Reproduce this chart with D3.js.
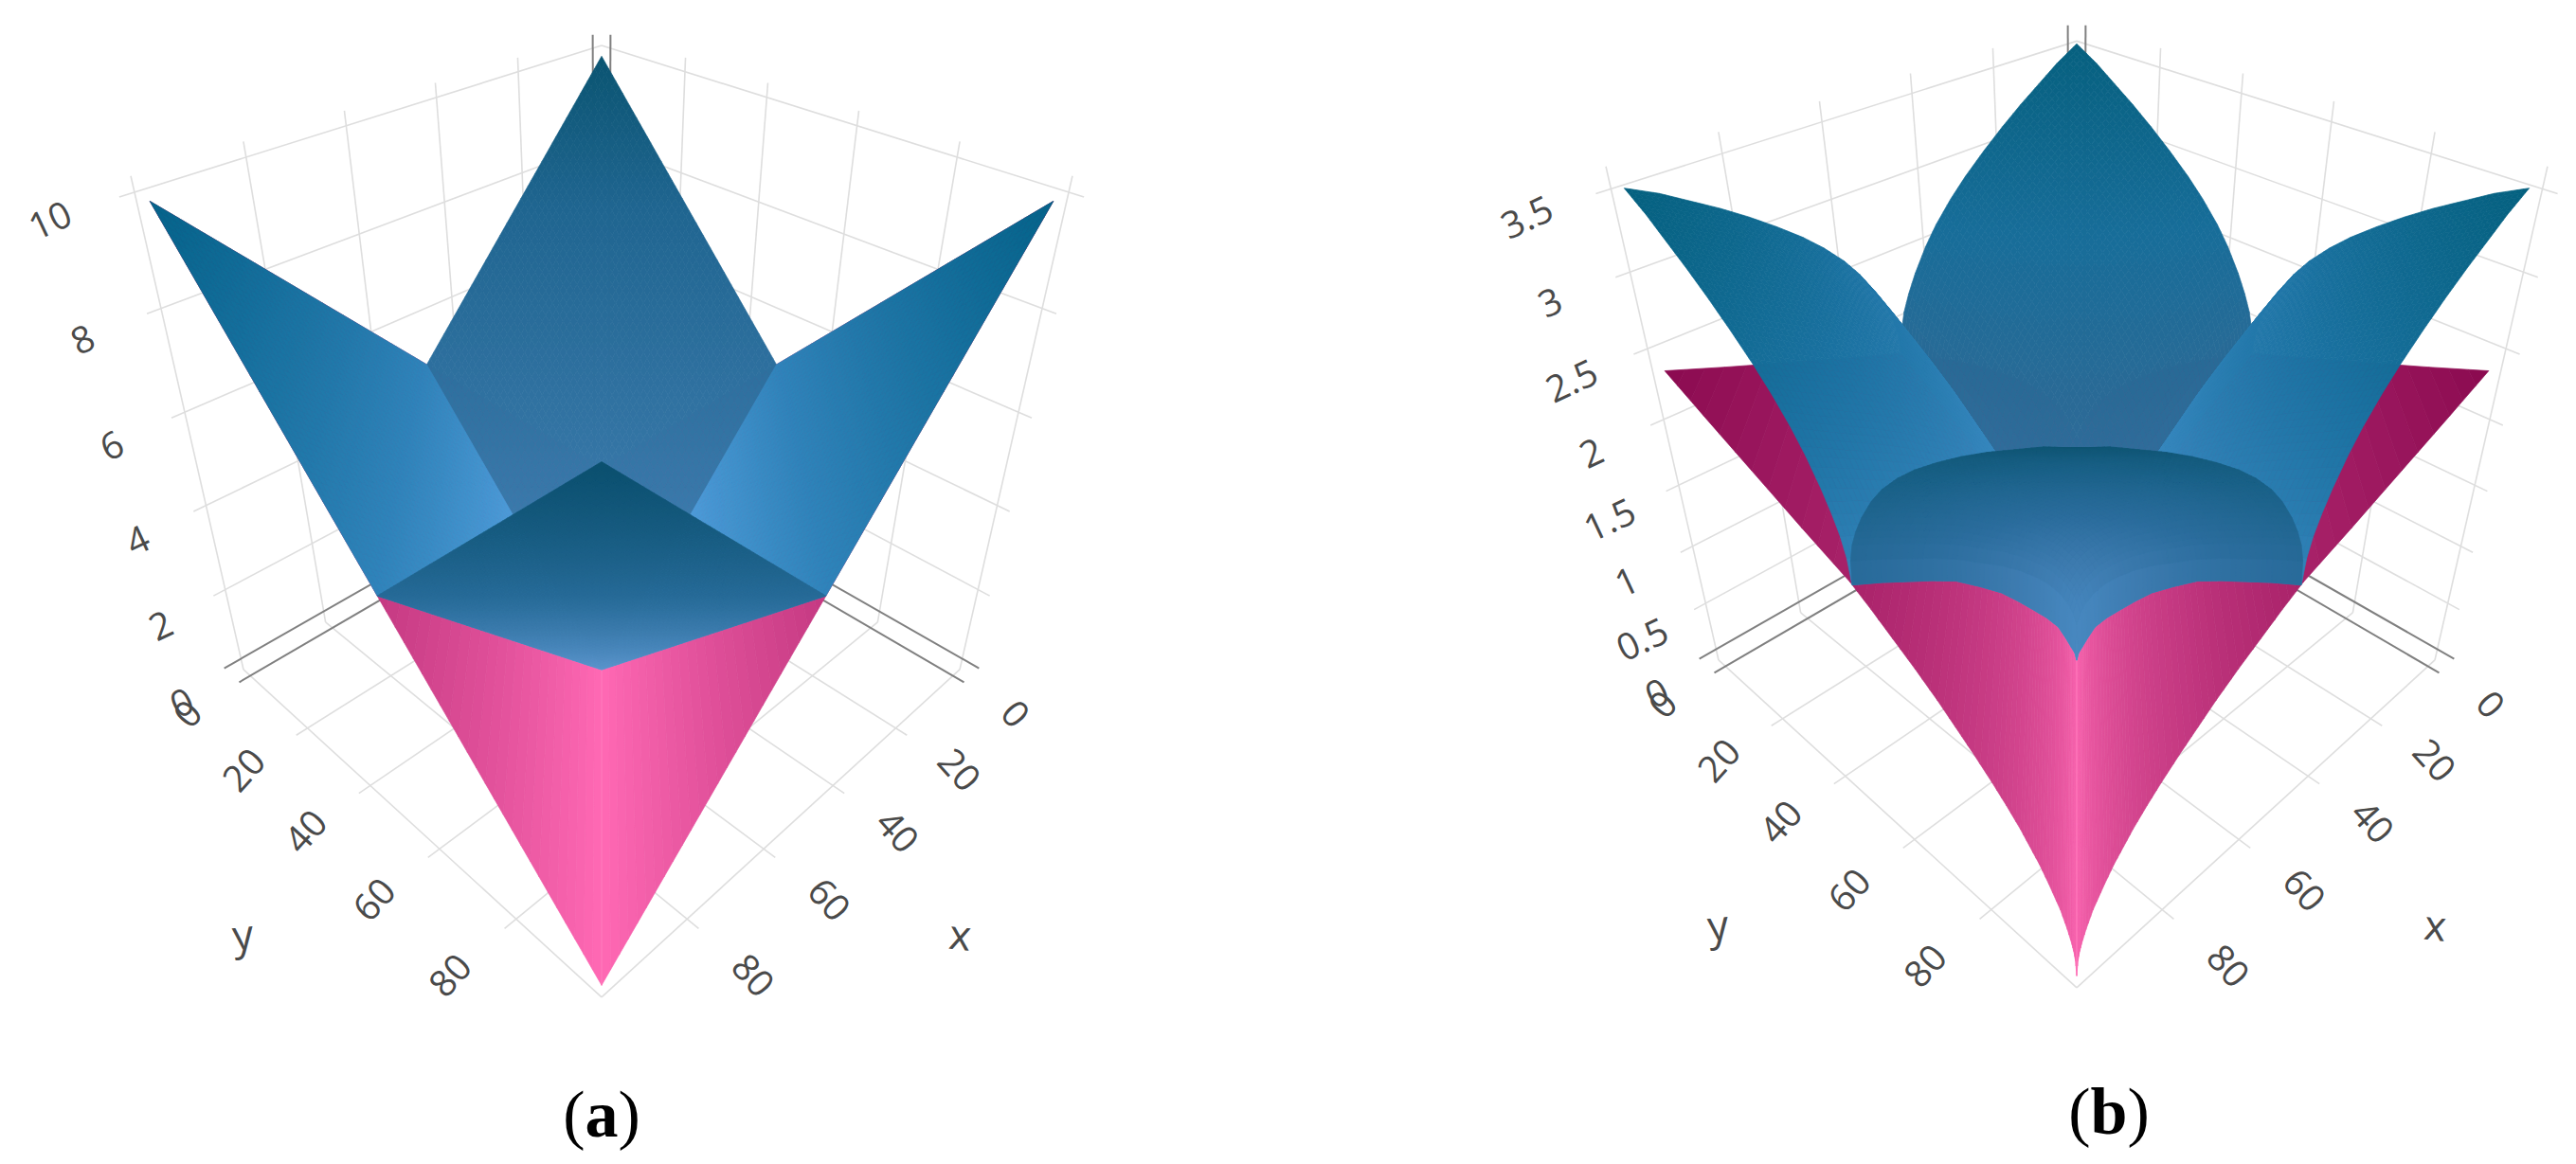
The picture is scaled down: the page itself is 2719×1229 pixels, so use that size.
<!DOCTYPE html>
<html>
<head>
<meta charset="utf-8">
<script src="https://cdn.jsdelivr.net/npm/d3@7"></script>
<style>
  html, body { margin: 0; background: #fff; }
  svg { display: block; }
  .tick { font-family: "Open Sans", sans-serif; font-size: 39px; fill: #4a4a4a; text-anchor: middle; dominant-baseline: central; }
  .title { font-size: 44px; }
  .caption { font-family: "Liberation Serif", serif; font-size: 70px; fill: #000; text-anchor: middle; }
</style>
</head>
<body>
<svg width="2719" height="1229"></svg>
<script>
var svg = d3.select("svg");

// ticks
var xTicks = [0, 20, 40, 60, 80],
    yTicks = [0, 20, 40, 60, 80],
    zTicksA = [0, 2, 4, 6, 8, 10],
    zTicksB = [0, 0.5, 1, 1.5, 2, 2.5, 3, 3.5];

// (a) blue surface, one quadrant: distance from the centre (49.5) along x and y -> z
var aOffset = [0, 49.5];
var aBlueZ = [
  [0, 4.95],
  [4.95, 9.9]
];
// (a) pink surface: |x - y| -> z
var aPinkGap = [0, 99];
var aPinkZ = [0, 9.9];

// (b) same layout
var bOffset = [0, 0.5, 1.5, 3, 5, 8, 11, 15, 19, 24, 29, 34, 39, 44, 49.5];
var bBlueZ = [
  [0, 0.08, 0.16, 0.28, 0.43, 0.58, 0.71, 0.88, 1.04, 1.20, 1.35, 1.46, 1.56, 1.66, 1.76],
  [0.08, 0.36, 0.49, 0.61, 0.74, 0.89, 1.01, 1.15, 1.27, 1.40, 1.53, 1.64, 1.74, 1.84, 1.94],
  [0.16, 0.49, 0.62, 0.74, 0.87, 1.02, 1.14, 1.28, 1.40, 1.53, 1.66, 1.77, 1.87, 1.97, 2.07],
  [0.28, 0.61, 0.74, 0.86, 0.99, 1.14, 1.26, 1.40, 1.52, 1.65, 1.78, 1.89, 1.99, 2.09, 2.19],
  [0.43, 0.74, 0.87, 0.99, 1.12, 1.27, 1.39, 1.53, 1.65, 1.78, 1.91, 2.02, 2.12, 2.22, 2.32],
  [0.58, 0.89, 1.02, 1.14, 1.27, 1.42, 1.54, 1.68, 1.80, 1.93, 2.06, 2.17, 2.27, 2.37, 2.48],
  [0.71, 1.01, 1.14, 1.26, 1.39, 1.54, 1.66, 1.80, 1.92, 2.05, 2.18, 2.29, 2.39, 2.49, 2.61],
  [0.88, 1.15, 1.28, 1.40, 1.53, 1.68, 1.80, 1.94, 2.06, 2.19, 2.32, 2.43, 2.53, 2.63, 2.75],
  [1.04, 1.27, 1.40, 1.52, 1.65, 1.80, 1.92, 2.06, 2.18, 2.31, 2.44, 2.55, 2.65, 2.75, 2.87],
  [1.20, 1.40, 1.53, 1.65, 1.78, 1.93, 2.05, 2.19, 2.31, 2.44, 2.57, 2.68, 2.78, 2.88, 3.00],
  [1.35, 1.53, 1.66, 1.78, 1.91, 2.06, 2.18, 2.32, 2.44, 2.57, 2.70, 2.81, 2.91, 3.01, 3.12],
  [1.46, 1.64, 1.77, 1.89, 2.02, 2.17, 2.29, 2.43, 2.55, 2.68, 2.81, 2.92, 3.02, 3.12, 3.23],
  [1.56, 1.74, 1.87, 1.99, 2.12, 2.27, 2.39, 2.53, 2.65, 2.78, 2.91, 3.02, 3.12, 3.22, 3.33],
  [1.66, 1.84, 1.97, 2.09, 2.22, 2.37, 2.49, 2.63, 2.75, 2.88, 3.01, 3.12, 3.22, 3.32, 3.43],
  [1.76, 1.94, 2.07, 2.19, 2.32, 2.48, 2.61, 2.75, 2.87, 3.00, 3.12, 3.23, 3.33, 3.43, 3.52]
];
var bPinkGap = [0, 0.25, 0.5, 1, 2, 3.5, 6, 8, 10, 12, 15, 18, 22, 26, 30, 35, 40, 45, 50, 62, 75, 88, 99];
var bPinkZ = [0, 0.13, 0.18, 0.25, 0.35, 0.47, 0.61, 0.71, 0.79, 0.87, 0.97, 1.06, 1.17, 1.27, 1.37, 1.48, 1.58, 1.68, 1.77, 1.91, 2.07, 2.23, 2.37];

// both panels share one camera, fitted to the box corners
var cam = {A: 308.3, B: 88, C: -449.7, D: 488.6, E: -0.1844, G: -0.1903};
var tickOut = 0.025;

var xy = d3.scaleLinear().domain([-2.5, 100]).range([0, 1]);
var line = d3.line();

function project(X, Y, Z, panel) {
  var u = Y - X, v = X + Y;
  var w = 1 + cam.E * v + cam.G * Z;
  return [panel.cx + cam.A * u / w, panel.dy + (cam.D + cam.B * v + cam.C * Z) / w, w];
}

var panels = [
  {
    cx: 635, dy: 0, caption: "a", captionX: 635, captionY: 1200,
    z: d3.scaleLinear().domain([-0.1, 10]).range([0, 1]),
    zTicks: zTicksA, offset: aOffset, blue: aBlueZ, gap: aPinkGap, pink: aPinkZ, stripSteps: 50,
    pinkColor: d3.scaleLinear().domain([0, 9.9]).range(["#ff69b4", "#8b0a50"]),
    back: d3.scaleLinear().domain([0, 3, 7.5, 9.9]).range(["#4a8abe", "#3777a8", "#1f6590", "#0a5471"]),
    side: d3.scaleLinear().domain([0, 2.5, 4.95, 9.9]).range(["#5cacee", "#4c9cd9", "#2f84bb", "#04638a"]),
    front: d3.scaleLinear().domain([0, 4.95, 9.9]).range(["#5a94cc", "#266a97", "#0a4f6e"])
  },
  {
    cx: 2192, dy: -10, caption: "b", captionX: 2226, captionY: 1197,
    z: d3.scaleLinear().domain([-0.035, 3.535]).range([0, 1]),
    zTicks: zTicksB, offset: bOffset, blue: bBlueZ, gap: bPinkGap, pink: bPinkZ, stripSteps: 3,
    pinkColor: d3.scaleLinear().domain([0, 2.37]).range(["#ff69b4", "#8b0a50"]),
    back: d3.scaleLinear().domain([0, 1, 1.76, 2.6, 3.52]).range(["#3f80b5", "#356f9f", "#2a6a96", "#176d99", "#06607f"]),
    side: d3.scaleLinear().domain([0, 1.76, 2.6, 3.52]).range(["#5aa2e0", "#3384ba", "#1b72a2", "#04607f"]),
    front: d3.scaleLinear().domain([0, 0.6, 1.1, 1.76, 2.6, 3.52]).range(["#4a8ac2", "#4484bb", "#3c7aae", "#2a6c9c", "#1a6188", "#0e5472"])
  }
];

panels.forEach(function(panel) {
  var g = svg.append("g");

  function seg(a, b, color, width, opacity) {
    g.append("path")
      .attr("d", line([project(a[0], a[1], a[2], panel), project(b[0], b[1], b[2], panel)].map(function(p) { return [p[0], p[1]]; })))
      .attr("fill", "none").attr("stroke", color).attr("stroke-width", width)
      .attr("stroke-opacity", opacity || 1);
  }
  var grey = "#dedede", dark = "#808080";

  // walls
  panel.zTicks.slice(1).forEach(function(t) {
    var Z = panel.z(t);
    seg([0, 0, Z], [1 + tickOut, 0, Z], grey, 1.6);
    seg([0, 0, Z], [0, 1 + tickOut, Z], grey, 1.6);
  });
  xTicks.slice(1).concat([100]).forEach(function(t) {
    var p = xy(t);
    seg([p, 0, 0], [p, 0, 1.026], grey, 1.6);
    seg([0, p, 0], [0, p, 1.026], grey, 1.6);
  });
  // floor
  yTicks.slice(1).forEach(function(t) {
    var p = xy(t);
    seg([0, p, 0], [1 + tickOut, p, 0], grey, 1.6);
    seg([p, 0, 0], [p, 1 + tickOut, 0], grey, 1.6);
  });
  seg([1, 0, 0], [1, 1, 0], grey, 1.6);
  seg([0, 1, 0], [1, 1, 0], grey, 1.6);
  // zero lines
  var zero = xy(0);
  seg([0, zero, 0], [1 + tickOut, zero, 0], dark, 2);
  seg([zero, 0, 0], [zero, 1 + tickOut, 0], dark, 2);
  seg([0, -0.03, 0], [1 + tickOut, -0.03, 0], dark, 2);
  seg([-0.03, 0, 0], [-0.03, 1 + tickOut, 0], dark, 2);
  seg([zero, 0, 0], [zero, 0, 1.026], dark, 2);
  seg([0, zero, 0], [0, zero, 1.026], dark, 2);

  // pink first, the blue surface is above it everywhere
  var pinkCells = [];
  [1, -1].forEach(function(s) {
    d3.range(panel.gap.length - 1).forEach(function(i) {
      d3.range(panel.stripSteps).forEach(function(k) {
        var a = k / panel.stripSteps, b = (k + 1) / panel.stripSteps;
        var g0 = d3.interpolateNumber(panel.gap[i], panel.gap[i + 1]);
        var z0 = d3.interpolateNumber(panel.pink[i], panel.pink[i + 1]);
        var ends = [[g0(a), z0(a)], [g0(b), z0(b)]];
        var pts = [];
        ends.forEach(function(e, n) {
          var low = [e[0], 0], high = [99, 99 - e[0]];
          var order = n === 0 ? [low, high] : [high, low];
          order.forEach(function(q) {
            var px = s > 0 ? q[0] : q[1], py = s > 0 ? q[1] : q[0];
            pts.push(project(xy(px), xy(py), panel.z(e[1]), panel).slice(0, 2));
          });
        });
        pinkCells.push({pts: pts, color: panel.pinkColor((ends[0][1] + ends[1][1]) / 2)});
      });
    });
  });
  g.selectAll(".pink")
    .data(pinkCells)
    .enter().append("path")
      .attr("class", "pink")
      .attr("d", function(d) { return line(d.pts) + "Z"; })
      .attr("fill", function(d) { return d.color; })
      .attr("stroke", function(d) { return d.color; })
      .attr("stroke-width", 0.7);
  // light crease along x = y
  seg([xy(49.5), xy(49.5), panel.z(0)], [xy(99), xy(99), panel.z(0)], "#ff85c4", 1.5, 0.5);

  // blue quadrants, far to near
  var quadrants = [
    {sx: -1, sy: -1, color: panel.back},
    {sx: 1, sy: -1, color: panel.side},
    {sx: -1, sy: 1, color: panel.side},
    {sx: 1, sy: 1, color: panel.front}
  ];
  quadrants.forEach(function(q) {
    var cells = [];
    var off = panel.offset, tz = panel.blue;
    function corner(i, j, a, b) {
      var ox = off[i] + (off[i + 1] - off[i]) * a, oy = off[j] + (off[j + 1] - off[j]) * b;
      var zv = tz[i][j] * (1 - a) * (1 - b) + tz[i + 1][j] * a * (1 - b) + tz[i][j + 1] * (1 - a) * b + tz[i + 1][j + 1] * a * b;
      return {p: project(xy(49.5 + q.sx * ox), xy(49.5 + q.sy * oy), panel.z(zv), panel), z: zv};
    }
    d3.range(off.length - 1).forEach(function(i) {
      d3.range(off.length - 1).forEach(function(j) {
        var na = Math.ceil(off[i + 1] - off[i]), nb = Math.ceil(off[j + 1] - off[j]);
        d3.range(na).forEach(function(a) {
          d3.range(nb).forEach(function(b) {
            var c = [corner(i, j, a / na, b / nb), corner(i, j, (a + 1) / na, b / nb),
                     corner(i, j, (a + 1) / na, (b + 1) / nb), corner(i, j, a / na, (b + 1) / nb)];
            cells.push({
              pts: c.map(function(e) { return e.p.slice(0, 2); }),
              depth: d3.mean(c, function(e) { return e.p[2]; }),
              color: q.color(d3.mean(c, function(e) { return e.z; }))
            });
          });
        });
      });
    });
    cells.sort(function(a, b) { return b.depth - a.depth; });
    g.append("g").selectAll("path")
      .data(cells)
      .enter().append("path")
        .attr("d", function(d) { return line(d.pts) + "Z"; })
        .attr("fill", function(d) { return d.color; })
        .attr("stroke", function(d) { return d.color; })
        .attr("stroke-width", 0.7);
  });

  // tick labels
  function label(text, X, Y, Z, angle, cls) {
    var p = project(X, Y, Z, panel);
    g.append("text")
      .attr("class", cls || "tick")
      .attr("transform", "translate(" + p[0] + "," + p[1] + ") rotate(" + angle + ")")
      .text(text);
  }
  xTicks.forEach(function(t) { label(String(t), xy(t), 1.14, 0, 48); });
  yTicks.forEach(function(t) { label(String(t), 1.14, xy(t), 0, -48); });
  panel.zTicks.forEach(function(t) { label(String(t), 1.135, 0, panel.z(t), -25); });
  label("x", 0.516, 1.327, 0, 6, "tick title");
  label("y", 1.327, 0.516, 0, -6, "tick title");

  var cap = g.append("text").attr("class", "caption")
    .attr("x", panel.captionX).attr("y", panel.captionY);
  cap.append("tspan").text("(");
  cap.append("tspan").attr("font-weight", "bold").text(panel.caption);
  cap.append("tspan").text(")");
});
</script>
</body>
</html>
